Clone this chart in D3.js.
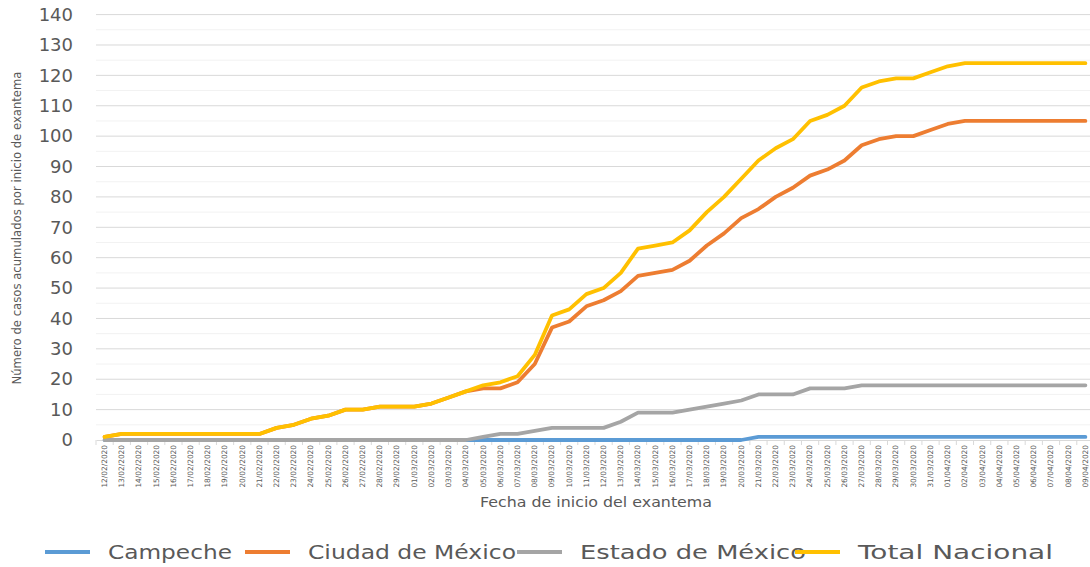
<!DOCTYPE html>
<html>
<head>
<meta charset="utf-8">
<script src="https://cdn.jsdelivr.net/npm/d3@7"></script>
<style>
  body { margin: 0; background: #fff; }
  text { font-family: "DejaVu Sans", sans-serif; fill: #595959; }
</style>
</head>
<body>
<div class="chart"></div>
<script>
var svgWidth = 1090;
var svgHeight = 567;

// category labels (fecha de inicio del exantema)
var fechas = [
  "12/02/2020", "13/02/2020", "14/02/2020", "15/02/2020", "16/02/2020", "17/02/2020",
  "18/02/2020", "19/02/2020", "20/02/2020", "21/02/2020", "22/02/2020", "23/02/2020",
  "24/02/2020", "25/02/2020", "26/02/2020", "27/02/2020", "28/02/2020", "29/02/2020",
  "01/03/2020", "02/03/2020", "03/03/2020", "04/03/2020", "05/03/2020", "06/03/2020",
  "07/03/2020", "08/03/2020", "09/03/2020", "10/03/2020", "11/03/2020", "12/03/2020",
  "13/03/2020", "14/03/2020", "15/03/2020", "16/03/2020", "17/03/2020", "18/03/2020",
  "19/03/2020", "20/03/2020", "21/03/2020", "22/03/2020", "23/03/2020", "24/03/2020",
  "25/03/2020", "26/03/2020", "27/03/2020", "28/03/2020", "29/03/2020", "30/03/2020",
  "31/03/2020", "01/04/2020", "02/04/2020", "03/04/2020", "04/04/2020", "05/04/2020",
  "06/04/2020", "07/04/2020", "08/04/2020", "09/04/2020"
];

var campeche = [
  0, 0, 0, 0, 0, 0, 0, 0, 0, 0, 0, 0, 0, 0, 0, 0, 0, 0, 0, 0,
  0, 0, 0, 0, 0, 0, 0, 0, 0, 0, 0, 0, 0, 0, 0, 0, 0, 0, 1, 1,
  1, 1, 1, 1, 1, 1, 1, 1, 1, 1, 1, 1, 1, 1, 1, 1, 1, 1
];

var ciudadMexico = [
  1, 2, 2, 2, 2, 2, 2, 2, 2, 2, 4, 5, 7, 8, 10, 10, 11, 11, 11, 12,
  14, 16, 17, 17, 19, 25, 37, 39, 44, 46, 49, 54, 55, 56, 59, 64, 68, 73, 76, 80,
  83, 87, 89, 92, 97, 99, 100, 100, 102, 104, 105, 105, 105, 105, 105, 105, 105, 105
];

var estadoMexico = [
  0, 0, 0, 0, 0, 0, 0, 0, 0, 0, 0, 0, 0, 0, 0, 0, 0, 0, 0, 0,
  0, 0, 1, 2, 2, 3, 4, 4, 4, 4, 6, 9, 9, 9, 10, 11, 12, 13, 15, 15,
  15, 17, 17, 17, 18, 18, 18, 18, 18, 18, 18, 18, 18, 18, 18, 18, 18, 18
];

var totalNacional = [
  1, 2, 2, 2, 2, 2, 2, 2, 2, 2, 4, 5, 7, 8, 10, 10, 11, 11, 11, 12,
  14, 16, 18, 19, 21, 28, 41, 43, 48, 50, 55, 63, 64, 65, 69, 75, 80, 86, 92, 96,
  99, 105, 107, 110, 116, 118, 119, 119, 121, 123, 124, 124, 124, 124, 124, 124, 124, 124
];

var yTicks = [0, 10, 20, 30, 40, 50, 60, 70, 80, 90, 100, 110, 120, 130, 140];

var series = [
  { name: "Campeche", values: campeche, color: "#5b9bd5" },
  { name: "Ciudad de México", values: ciudadMexico, color: "#ed7d31" },
  { name: "Estado de México", values: estadoMexico, color: "#a5a5a5" },
  { name: "Total Nacional", values: totalNacional, color: "#ffc000" }
];

var plot = { left: 96, right: 1094, top: 14.6, bottom: 440 };

var svg = d3.select(".chart")
  .append("svg")
  .attr("width", svgWidth)
  .attr("height", svgHeight);

// scales
var xScale = d3.scaleBand()
  .domain(fechas)
  .range([plot.left, plot.right]);

var yScale = d3.scaleLinear()
  .domain([0, 140])
  .range([plot.bottom, plot.top]);

// minor gridlines (every 5)
svg.append("g")
  .selectAll("line")
  .data(yTicks.slice(0, -1))
  .enter()
  .append("line")
  .attr("x1", plot.left)
  .attr("x2", plot.right)
  .attr("y1", d => yScale(d + 5))
  .attr("y2", d => yScale(d + 5))
  .attr("stroke", "#f2f2f2")
  .attr("stroke-width", 1);

// major gridlines
svg.append("g")
  .selectAll("line")
  .data(yTicks.slice(1))
  .enter()
  .append("line")
  .attr("x1", plot.left)
  .attr("x2", plot.right)
  .attr("y1", d => yScale(d))
  .attr("y2", d => yScale(d))
  .attr("stroke", "#d9d9d9")
  .attr("stroke-width", 1);

// y axis labels
var leftAxis = d3.axisLeft(yScale)
  .tickValues(yTicks)
  .tickSize(0)
  .tickPadding(0);

var yAxis = svg.append("g")
  .attr("transform", "translate(73, 0)")
  .call(leftAxis);
yAxis.select(".domain").remove();
yAxis.selectAll("text")
  .style("font-size", "18px")
  .attr("fill", "#595959");

// x axis with ticks between categories
var bottomAxis = d3.axisBottom(xScale)
  .tickSize(0)
  .tickPadding(0);

var xAxis = svg.append("g")
  .attr("transform", `translate(0, ${plot.bottom})`)
  .call(bottomAxis);
xAxis.select(".domain")
  .attr("stroke", "#d9d9d9");
xAxis.selectAll("text")
  .attr("transform", "rotate(-90)")
  .attr("x", -5)
  .attr("y", 0)
  .attr("dy", "0.32em")
  .style("text-anchor", "end")
  .style("font-size", "7.4px")
  .attr("fill", "#666666");

svg.append("g")
  .selectAll("line")
  .data(fechas.concat(["end"]))
  .enter()
  .append("line")
  .attr("x1", (d, i) => plot.left + i * xScale.step())
  .attr("x2", (d, i) => plot.left + i * xScale.step())
  .attr("y1", plot.bottom)
  .attr("y2", plot.bottom + 5)
  .attr("stroke", "#d9d9d9");

// lines
var line = d3.line()
  .x((d, i) => xScale(fechas[i]) + xScale.bandwidth() / 2)
  .y(d => yScale(d));

svg.append("g")
  .selectAll("path")
  .data(series)
  .enter()
  .append("path")
  .attr("d", d => line(d.values))
  .attr("fill", "none")
  .attr("stroke", d => d.color)
  .attr("stroke-width", 3.8)
  .attr("stroke-linejoin", "round")
  .attr("stroke-linecap", "round");

// axis titles
svg.append("text")
  .attr("transform", "translate(21, 228) rotate(-90)")
  .attr("text-anchor", "middle")
  .attr("textLength", 313)
  .attr("lengthAdjust", "spacingAndGlyphs")
  .style("font-size", "13px")
  .text("Número de casos acumulados por inicio de exantema");

svg.append("text")
  .attr("x", 596)
  .attr("y", 507)
  .attr("text-anchor", "middle")
  .attr("textLength", 232)
  .attr("lengthAdjust", "spacingAndGlyphs")
  .style("font-size", "14px")
  .text("Fecha de inicio del exantema");

// legend
var legendItems = [
  { x: 45, textWidth: 124 },
  { x: 245, textWidth: 208 },
  { x: 517, textWidth: 226 },
  { x: 795, textWidth: 195 }
];

var legend = svg.append("g")
  .selectAll("g")
  .data(series)
  .enter()
  .append("g")
  .attr("transform", (d, i) => `translate(${legendItems[i].x}, 552)`);

legend.append("line")
  .attr("x1", 0)
  .attr("x2", 45)
  .attr("stroke", d => d.color)
  .attr("stroke-width", 3.8);

legend.append("text")
  .attr("x", 63)
  .attr("dy", "0.35em")
  .attr("textLength", (d, i) => legendItems[i].textWidth)
  .attr("lengthAdjust", "spacingAndGlyphs")
  .style("font-size", "19px")
  .text(d => d.name);
</script>
</body>
</html>
